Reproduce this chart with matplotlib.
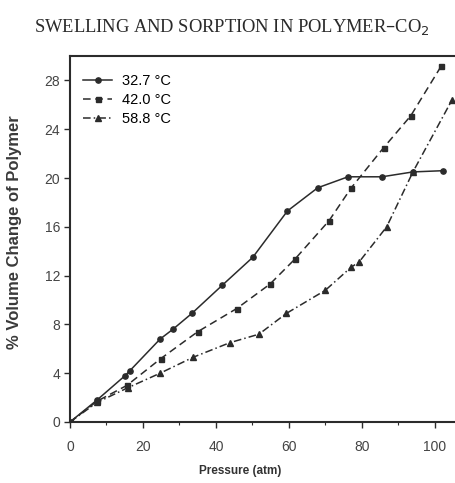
import matplotlib
matplotlib.use("Agg")
import matplotlib.pyplot as plt
from matplotlib.ticker import MultipleLocator

# (pressure in atm, % volume change)
p_327 = [0, 7.4, 15.1, 16.4, 24.7, 28.2, 33.4, 41.7, 50.1, 59.6, 67.9, 76.2, 85.5, 94.0, 102.2]
v_327 = [0, 1.8, 3.8, 4.2, 6.8, 7.6, 8.9, 11.2, 13.5, 17.3, 19.2, 20.1, 20.1, 20.5, 20.6]

p_420 = [0, 7.4, 15.6, 24.9, 35.0, 45.7, 54.8, 61.8, 71.0, 77.1, 86.0, 93.4, 101.8]
v_420 = [0, 1.7, 3.0, 5.2, 7.4, 9.3, 11.3, 13.4, 16.5, 19.2, 22.5, 25.1, 29.2]

p_588 = [0, 7.4, 15.8, 24.7, 33.7, 43.8, 51.8, 59.3, 70.0, 77.1, 79.2, 86.8, 94.0, 104.7]
v_588 = [0, 1.6, 2.8, 4.0, 5.3, 6.5, 7.2, 8.9, 10.8, 12.7, 13.1, 16.0, 20.5, 26.4]

labels = ["32.7 °C", "42.0 °C", "58.8 °C"]
xticks = [0, 20, 40, 60, 80, 100]
yticks = [0, 4, 8, 12, 16, 20, 24, 28]

ink = "#2b2b2b"
sans = "Liberation Sans"

fig = plt.figure(figsize=(4.56, 4.83), dpi=100)
# right edge of the scan cuts through the plot, so the axes run off the page
ax = fig.add_axes([0.1535, 0.1263, 0.8465, 0.7577])

ax.plot(p_327, v_327, "-", marker="o", ms=3.8, color=ink, lw=1.1, label=labels[0])
ax.plot(p_420, v_420, "--", marker="s", ms=3.6, color=ink, lw=1.1,
        dashes=(5, 3), label=labels[1])
ax.plot(p_588, v_588, "-.", marker="^", ms=3.8, color=ink, lw=1.1,
        dashes=(5, 2, 1, 2), label=labels[2])

ax.set_xlim(0, 105.8)
ax.set_ylim(0, 30)
ax.set_xticks(xticks)
ax.set_yticks(yticks)
ax.xaxis.set_minor_locator(MultipleLocator(10))
ax.tick_params(axis="both", which="major", length=4, width=1, colors=ink,
               labelsize=10, labelcolor="#444444")
ax.tick_params(axis="x", which="major", pad=9)
ax.tick_params(axis="y", which="major", pad=3)
ax.tick_params(axis="x", which="minor", length=2.5, width=0.8, colors=ink)
for t in ax.get_xticklabels() + ax.get_yticklabels():
    t.set_family(sans)

for side in ("left", "bottom", "top"):
    ax.spines[side].set_linewidth(1.5)
    ax.spines[side].set_color(ink)
ax.spines["right"].set_visible(False)

ax.set_xlabel("Pressure (atm)", fontsize=8.5, fontweight="bold",
              family=sans, color="#333333")
ax.xaxis.set_label_coords(0.44, -0.117)
ax.set_ylabel("% Volume Change of Polymer", fontsize=12, fontweight="bold",
              family=sans, color="#3a3a3a")
ax.yaxis.set_label_coords(-0.125, 0.52)

ax.legend(loc="upper left", bbox_to_anchor=(0.182, 0.847),
          bbox_transform=fig.transFigure, frameon=False, handlelength=2.0,
          handletextpad=0.7, labelspacing=0.35, borderpad=0, borderaxespad=0,
          prop={"family": sans, "size": 10.5})

fig.text(0.509, 0.944, "SWELLING AND SORPTION IN POLYMER–CO$_2$",
         ha="center", va="center", family="Liberation Serif", fontsize=13.3,
         color="#2a2a2a")

fig.savefig("out.png", dpi=100)
